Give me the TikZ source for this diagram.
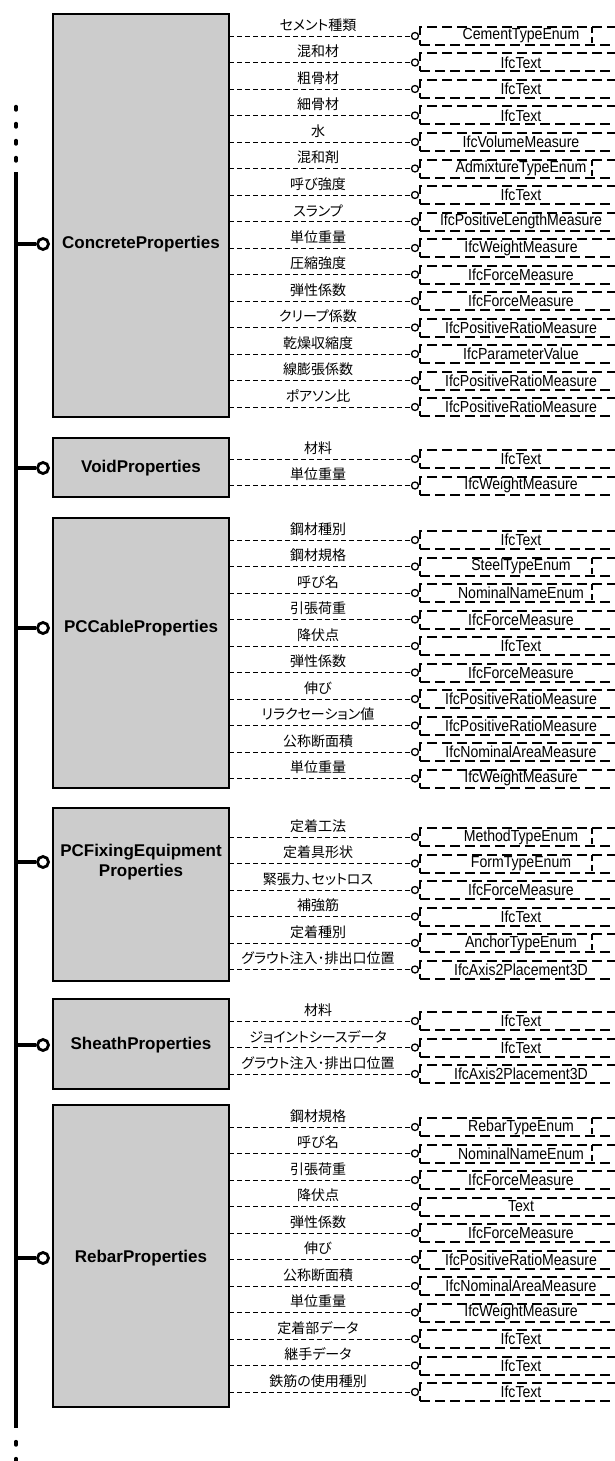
\documentclass[tikz,border=0pt]{standalone}
\usepackage{fontspec}
\setmainfont{Liberation Sans}
\newfontfamily\jpfont[RawFeature=+palt]{Noto Sans CJK JP}
\newfontfamily\typefont[FakeStretch=0.88]{Liberation Sans}
\definecolor{boxgray}{HTML}{CCCCCC}
\tikzset{
  mainbox/.style={draw, line width=1.6pt, fill=boxgray, inner sep=0pt, minimum width=176pt},
  titletext/.style={font=\bfseries\fontsize{17}{20}\selectfont, align=center, inner sep=0pt},
  tbox/.style={draw, line width=2pt, dash pattern=on 10pt off 5pt, minimum width=202pt, minimum height=18pt, inner sep=0pt, font=\typefont\fontsize{16}{16}\selectfont},
  tdiv/.style={line width=2pt, dash pattern=on 6pt off 4pt},
  conn/.style={line width=0.9pt, dash pattern=on 5pt off 3pt},
  smallcirc/.style={circle, draw, line width=1.3pt, minimum size=7pt, inner sep=0pt, fill=white},
  bigcirc/.style={circle, draw, line width=2.8pt, minimum size=11pt, inner sep=0pt, fill=white},
  busline/.style={line width=3.2pt},
  busdots/.style={line width=3.4pt, line cap=round, dash pattern=on 3.5pt off 13.5pt},
  rowlab/.style={font=\jpfont\fontsize{14}{14}\selectfont, inner sep=0pt},
}
% #1 name, #2 top, #3 bottom, #4 title y, #5 first row y, #6 title, #7 rows
\newcommand\propgroup[7]{%
  \node[mainbox, minimum height={#3-#2}] (#1) at (141,{(#2+#3)/2}) {};
  \node[titletext] (#1T) at (141,#4) {#6};
  \node[bigcirc] (#1C) at (43,#4) {};
  \coordinate (#1B) at (16,#4);
  \draw[busline] (#1B) -- (#1C);
  \foreach \lab/\typ/\en [count=\i from 0] in {#7} {
    \pgfmathsetmacro\yy{#5+26.5*\i}
    \coordinate (#1s\i) at (229,\yy);
    \node[smallcirc] (#1c\i) at (415,\yy) {};
    \draw[conn] (#1s\i) -- (#1c\i);
    \node[tbox] (#1t\i) at (521,\yy) {\typ\hspace{6pt}};
    \node[rowlab] (#1l\i) at (318,\yy-11) {\lab};
    \ifnum\en=1 \draw[tdiv] (592,\yy-9) -- (592,\yy+9);\fi
  }
}
\begin{document}
\begin{tikzpicture}[x=1pt,y=-1pt]
\useasboundingbox (0,0) rectangle (615,1461);
% bus
\coordinate (bustop) at (16,172);
\coordinate (busbot) at (16,1428);
\draw[busline] (bustop) -- (busbot);
\coordinate (dotsA1) at (16,106.5);
\coordinate (dotsA2) at (16,162);
\draw[busdots] (dotsA1) -- (dotsA2);
\coordinate (dotsB1) at (16,1441.5);
\coordinate (dotsB2) at (16,1470);
\draw[busdots] (dotsB1) -- (dotsB2);

\propgroup{conc}{14}{417}{244}{36}{ConcreteProperties}{%
  セメント種類/CementTypeEnum/1, 混和材/IfcText/0, 粗骨材/IfcText/0, 細骨材/IfcText/0,
  水/IfcVolumeMeasure/0, 混和剤/AdmixtureTypeEnum/1, 呼び強度/IfcText/0,
  スランプ/IfcPositiveLengthMeasure/0, 単位重量/IfcWeightMeasure/0, 圧縮強度/IfcForceMeasure/0,
  弾性係数/IfcForceMeasure/0, クリープ係数/IfcPositiveRatioMeasure/0, 乾燥収縮度/IfcParameterValue/0,
  線膨張係数/IfcPositiveRatioMeasure/0, ポアソン比/IfcPositiveRatioMeasure/0}

\propgroup{void}{438}{497}{468}{459}{VoidProperties}{%
  材料/IfcText/0, 単位重量/IfcWeightMeasure/0}

\propgroup{cable}{518}{788}{628}{540}{PCCableProperties}{%
  鋼材種別/IfcText/0, 鋼材規格/SteelTypeEnum/1, 呼び名/NominalNameEnum/1,
  引張荷重/IfcForceMeasure/0, 降伏点/IfcText/0, 弾性係数/IfcForceMeasure/0,
  伸び/IfcPositiveRatioMeasure/0, リラクセーション値/IfcPositiveRatioMeasure/0,
  公称断面積/IfcNominalAreaMeasure/0, 単位重量/IfcWeightMeasure/0}

\propgroup{fix}{808}{981}{862}{837}{PCFixingEquipment\\Properties}{%
  定着工法/MethodTypeEnum/1, 定着具形状/FormTypeEnum/1, 緊張力、セットロス/IfcForceMeasure/0,
  補強筋/IfcText/0, 定着種別/AnchorTypeEnum/1, グラウト注入･排出口位置/IfcAxis2Placement3D/0}

\propgroup{sheath}{999}{1089}{1045}{1021}{SheathProperties}{%
  材料/IfcText/0, ジョイントシースデータ/IfcText/0, グラウト注入･排出口位置/IfcAxis2Placement3D/0}

\propgroup{rebar}{1105}{1407}{1258}{1127}{RebarProperties}{%
  鋼材規格/RebarTypeEnum/1, 呼び名/NominalNameEnum/1, 引張荷重/IfcForceMeasure/0,
  降伏点/Text/0, 弾性係数/IfcForceMeasure/0, 伸び/IfcPositiveRatioMeasure/0,
  公称断面積/IfcNominalAreaMeasure/0, 単位重量/IfcWeightMeasure/0, 定着部データ/IfcText/0,
  継手データ/IfcText/0, 鉄筋の使用種別/IfcText/0}
\end{tikzpicture}
\end{document}
